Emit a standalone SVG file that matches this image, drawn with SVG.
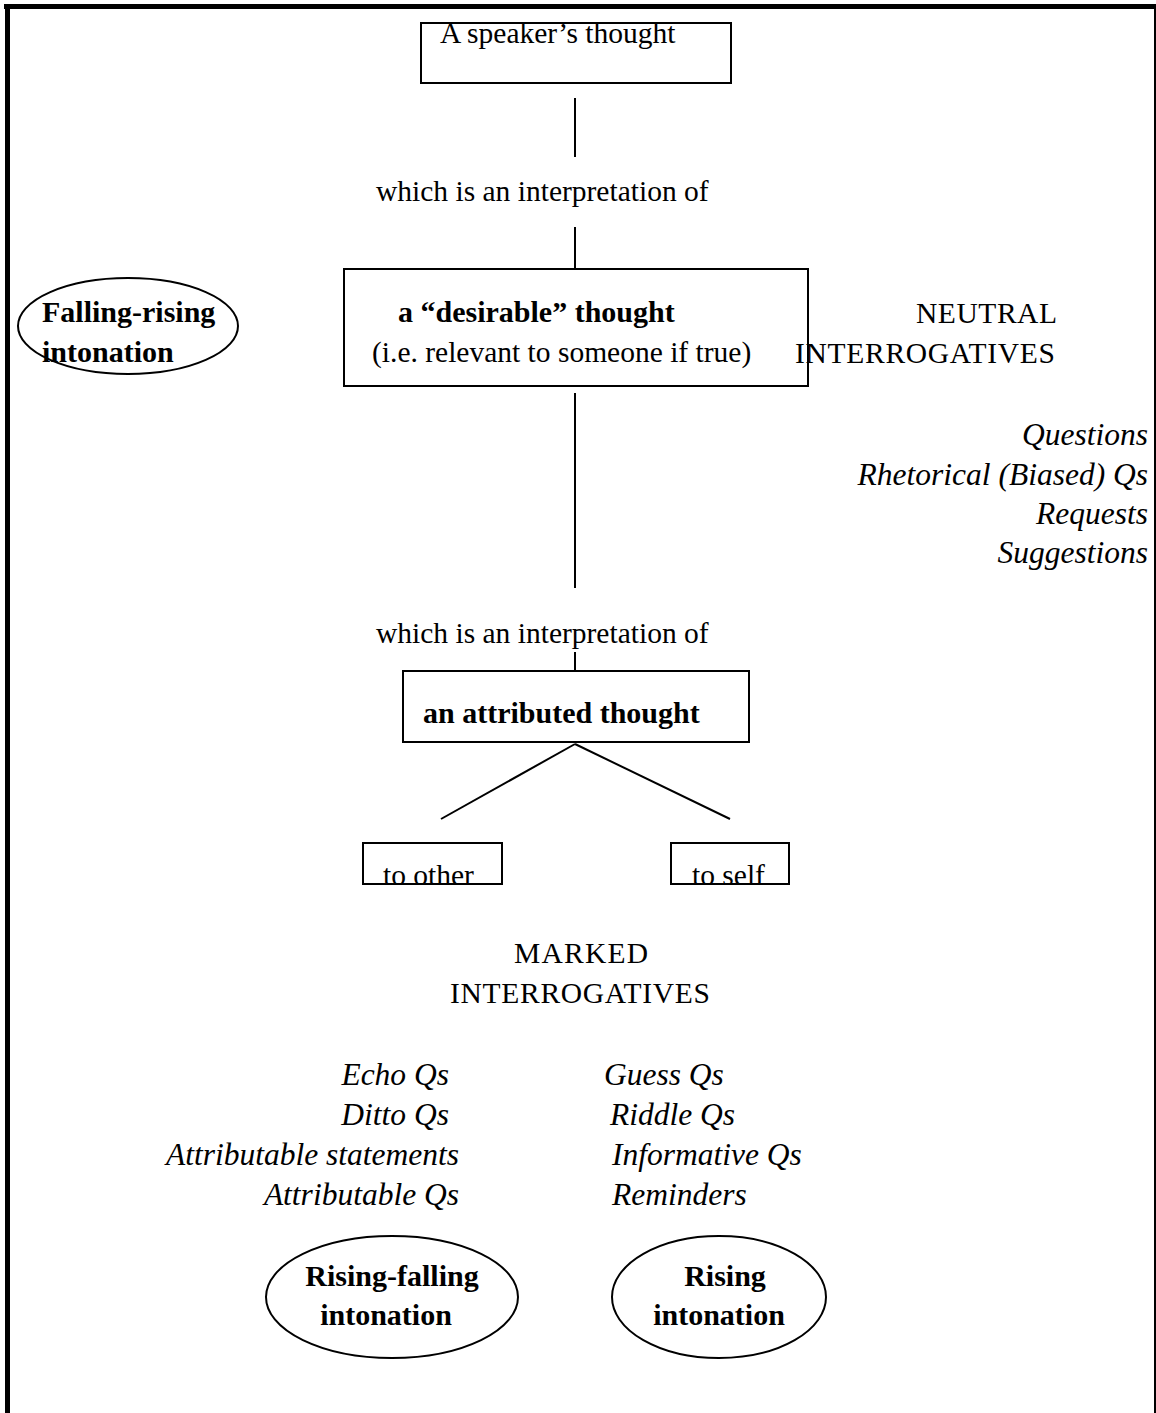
<svg xmlns="http://www.w3.org/2000/svg" width="1156" height="1413" viewBox="0 0 1156 1413">
<style>
text{font-family:"Liberation Serif","Times New Roman",serif;fill:#000}
.r{font-size:29.5px}
.b{font-size:30px;font-weight:bold}
.i{font-size:31.5px;font-style:italic}
.box{fill:none;stroke:#000;stroke-width:2}
.ell{fill:none;stroke:#000;stroke-width:2}
.ln{stroke:#000;stroke-width:2;fill:none}
.e{text-anchor:end}
</style>
<defs>
<clipPath id="c1"><rect x="421" y="23" width="310" height="60"/></clipPath>
<clipPath id="c2"><rect x="363" y="843" width="139" height="41"/></clipPath>
<clipPath id="c3"><rect x="671" y="843" width="118" height="41"/></clipPath>
</defs>
<rect width="1156" height="1413" fill="#fff"/>
<g id="frame">
<rect x="4" y="4" width="1152" height="5" fill="#000"/>
<rect x="5" y="4" width="5" height="1409" fill="#000"/>
<rect x="1154" y="4" width="2" height="1409" fill="#000"/>
</g>
<g id="connectors">
<line class="ln" x1="575" y1="98" x2="575" y2="157"/>
<line class="ln" x1="575" y1="227" x2="575" y2="269"/>
<line class="ln" x1="575" y1="393" x2="575" y2="588"/>
<line class="ln" x1="575" y1="652" x2="575" y2="671"/>
<line class="ln" x1="575" y1="744" x2="441" y2="819"/>
<line class="ln" x1="575" y1="744" x2="730" y2="819"/>
</g>
<g id="speaker">
<rect class="box" x="421" y="23" width="310" height="60"/>
<text class="r" x="440" y="43" clip-path="url(#c1)">A speaker’s thought</text>
</g>
<g id="label1"><text class="r" x="376" y="201">which is an interpretation of</text></g>
<g id="desirable">
<rect class="box" x="344" y="269" width="464" height="117"/>
<text class="b" x="398" y="322">a “desirable” thought</text>
<text class="r" x="372" y="362">(i.e. relevant to someone if true)</text>
</g>
<g id="falling-rising">
<ellipse class="ell" cx="128" cy="326" rx="110" ry="48"/>
<text class="b" x="42" y="322">Falling-rising</text>
<text class="b" x="42" y="362">intonation</text>
</g>
<g id="neutral">
<text class="r" x="916" y="323" textLength="141">NEUTRAL</text>
<text class="r" x="795" y="363" textLength="260">INTERROGATIVES</text>
<text class="i e" x="1148" y="445">Questions</text>
<text class="i e" x="1148" y="485">Rhetorical (Biased) Qs</text>
<text class="i e" x="1148" y="524">Requests</text>
<text class="i e" x="1148" y="563">Suggestions</text>
</g>
<g id="label2"><text class="r" x="376" y="643">which is an interpretation of</text></g>
<g id="attributed">
<rect class="box" x="403" y="671" width="346" height="71"/>
<text class="b" x="423" y="723">an attributed thought</text>
</g>
<g id="to-other">
<rect class="box" x="363" y="843" width="139" height="41"/>
<text class="r" x="383" y="885" clip-path="url(#c2)">to other</text>
</g>
<g id="to-self">
<rect class="box" x="671" y="843" width="118" height="41"/>
<text class="r" x="692" y="885" clip-path="url(#c3)">to self</text>
</g>
<g id="marked">
<text class="r" x="514" y="963" textLength="134">MARKED</text>
<text class="r" x="450" y="1003" textLength="260">INTERROGATIVES</text>
</g>
<g id="list-other">
<text class="i e" x="449" y="1085">Echo Qs</text>
<text class="i e" x="449" y="1125">Ditto Qs</text>
<text class="i e" x="459" y="1165">Attributable statements</text>
<text class="i e" x="459" y="1205">Attributable Qs</text>
</g>
<g id="list-self">
<text class="i" x="604" y="1085">Guess Qs</text>
<text class="i" x="610" y="1125">Riddle Qs</text>
<text class="i" x="612" y="1165">Informative Qs</text>
<text class="i" x="612" y="1205">Reminders</text>
</g>
<g id="rising-falling">
<ellipse class="ell" cx="392" cy="1297" rx="126" ry="61"/>
<text class="b" x="392" y="1286" text-anchor="middle">Rising-falling</text>
<text class="b" x="386" y="1325" text-anchor="middle">intonation</text>
</g>
<g id="rising">
<ellipse class="ell" cx="719" cy="1297" rx="107" ry="61"/>
<text class="b" x="725" y="1286" text-anchor="middle">Rising</text>
<text class="b" x="719" y="1325" text-anchor="middle">intonation</text>
</g>
</svg>
